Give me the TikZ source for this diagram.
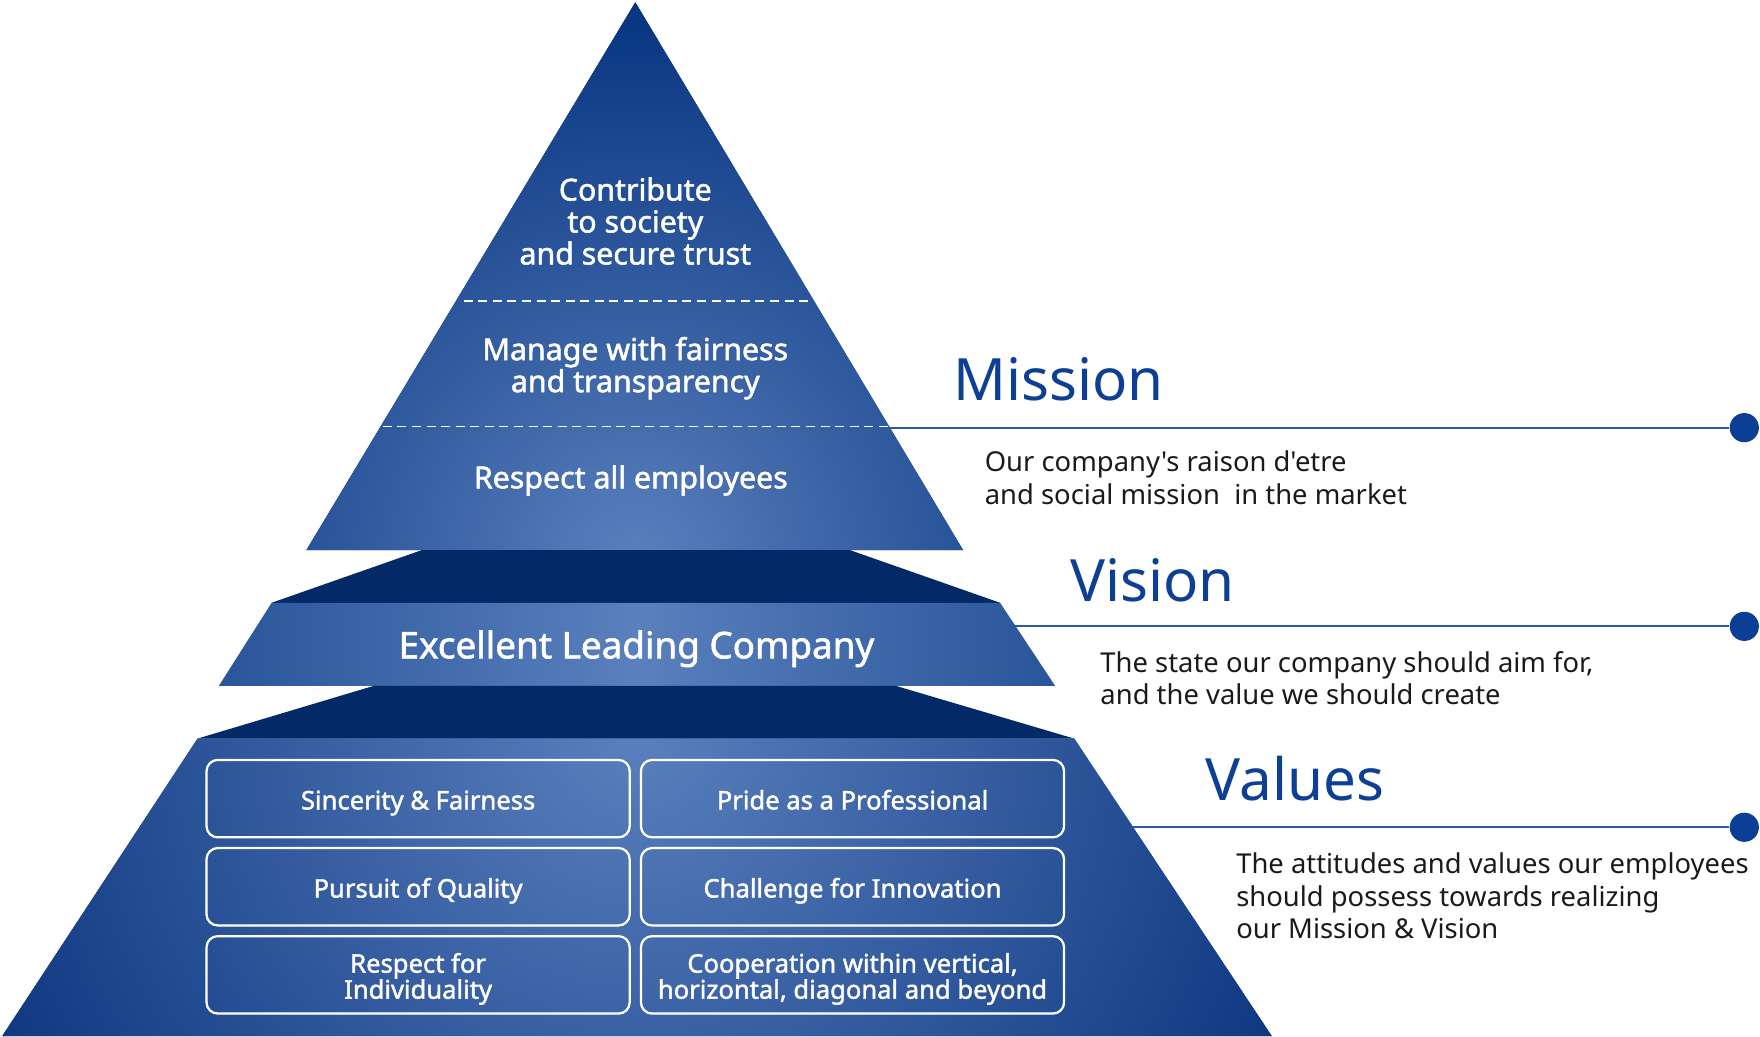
\documentclass[tikz,border=0pt]{standalone}
\usepackage{fontspec}
\setmainfont{Noto Sans}[Ligatures=TeXOff]
\newfontfamily\wfont{Noto Sans}[Ligatures=TeXOff,FakeBold=1.6]
\newcommand{\vstr}{\rule[-3.5pt]{0pt}{16.6pt}}
\definecolor{navy}{HTML}{03317D}
\definecolor{pyrlight}{HTML}{5A80BD}
\definecolor{bandnavy}{HTML}{032A66}
\definecolor{edgeblue}{HTML}{2A559A}
\definecolor{basenavy}{HTML}{07307B}
\definecolor{headblue}{HTML}{0D3F94}
\definecolor{lineblue}{HTML}{2C5AA0}
\definecolor{dotblue}{HTML}{0B3F96}
\definecolor{desc}{HTML}{1A1A1A}
\tikzset{
  wtext/.style={text=white, align=center, inner sep=0pt, font={\wfont\fontsize{13.5}{14.25}\selectfont}},
  bigtext/.style={text=white, align=center, inner sep=0pt, font={\wfont\fontsize{16.4}{18}\selectfont}},
  valbox/.style={draw=white, line width=1pt, rounded corners=5pt, minimum width=188.5pt, minimum height=34.5pt, inner sep=0pt, text=white, align=center, font={\wfont\fontsize{11.4}{11.6}\selectfont\lineskiplimit=-5pt}},
  heading/.style={text=headblue, anchor=base west, inner sep=0pt, font={\fontsize{26}{30}\selectfont}},
  desctext/.style={text=desc, anchor=west, align=left, inner sep=0pt, font={\fontsize{12.2}{14.5}\selectfont}},
  conn/.style={draw=lineblue, line width=1pt},
  enddot/.style={circle, fill=dotblue, inner sep=0pt, minimum size=13pt},
  sep/.style={draw=white, line width=0.8pt, dash pattern=on 4pt off 2.5pt}
}
\begin{document}
\begin{tikzpicture}[x=0.5pt,y=-0.5pt]
\useasboundingbox (0,0) rectangle (1568,923);
% top triangle
\coordinate (apex) at (566,2);
\coordinate (tl) at (273,490);
\coordinate (tr) at (858,490);
\fill[navy] (apex)--(tr)--(tl)--cycle;
\begin{scope}
\clip (apex)--(tr)--(tl)--cycle;
\shade[inner color=pyrlight, outer color=navy] (566,500) circle (520);
\end{scope}
\draw[sep] (413,268) -- (722,268);
\draw[sep] (341,380) -- (792,380);
% dark band 1
\fill[bandnavy] (376,490)--(757,490)--(891,537)--(242,537)--cycle;
% excellent band
\shade[left color=edgeblue, right color=edgeblue, middle color=pyrlight] (242,537)--(891,537)--(940,611)--(195,611)--cycle;
% dark band 2
\fill[bandnavy] (333,611)--(798,611)--(957,658)--(176,658)--cycle;
% bottom trapezoid
\fill[basenavy] (176,658)--(957,658)--(1133,923)--(2,923)--cycle;
\begin{scope}
\clip (176,658)--(957,658)--(1133,923)--(2,923)--cycle;
\shade[inner color=pyrlight, outer color=basenavy] (566,650) circle (700);
\end{scope}
% texts in pyramid
\node[wtext] (t1) at (566,197) {Contribute\\to society\\and secure trust};
\node[wtext] (t2) at (566,328) {Manage with fairness\\and transparency};
\node[wtext] (t3) at (562,428) {Respect all employees};
\node[bigtext] (t4) at (567,578) {Excellent Leading Company};
% value boxes
\node[valbox] (b1) at (372.5,711.5) {\vstr Sincerity \& Fairness\vstr};
\node[valbox] (b2) at (759.5,711.5) {\vstr Pride as a Professional\vstr};
\node[valbox] (b3) at (372.5,790) {\vstr Pursuit of Quality\vstr};
\node[valbox] (b4) at (759.5,790) {\vstr Challenge for Innovation\vstr};
\node[valbox] (b5) at (372.5,868.5) {\vstr Respect for\\Individuality\vstr};
\node[valbox] (b6) at (759.5,868.5) {\vstr Cooperation within vertical,\\horizontal, diagonal and beyond\vstr};
% headings
\node[heading] (hm) at (849,357) {Mission};
\node[heading] (hv) at (953,536) {Vision};
\node[heading] (hval) at (1074,713) {Values};
% connectors
\coordinate (m0) at (792,381);
\coordinate (v0) at (904,558);
\coordinate (w0) at (1009,737);
\node[enddot] (md) at (1554,381) {};
\node[enddot] (vd) at (1554,558) {};
\node[enddot] (wd) at (1554,737) {};
\draw[conn] (m0) -- (md);
\draw[conn] (v0) -- (vd);
\draw[conn] (w0) -- (wd);
% descriptions
\node[desctext] (dm) at (877,425.5) {Our company's raison d'etre\\and social mission~ in the market};
\node[desctext] (dv) at (980,604) {The state our company should aim for,\\and the value we should create};
\node[desctext] (dw) at (1101,798) {The attitudes and values our employees\\should possess towards realizing\\our Mission \& Vision};
\end{tikzpicture}
\end{document}
